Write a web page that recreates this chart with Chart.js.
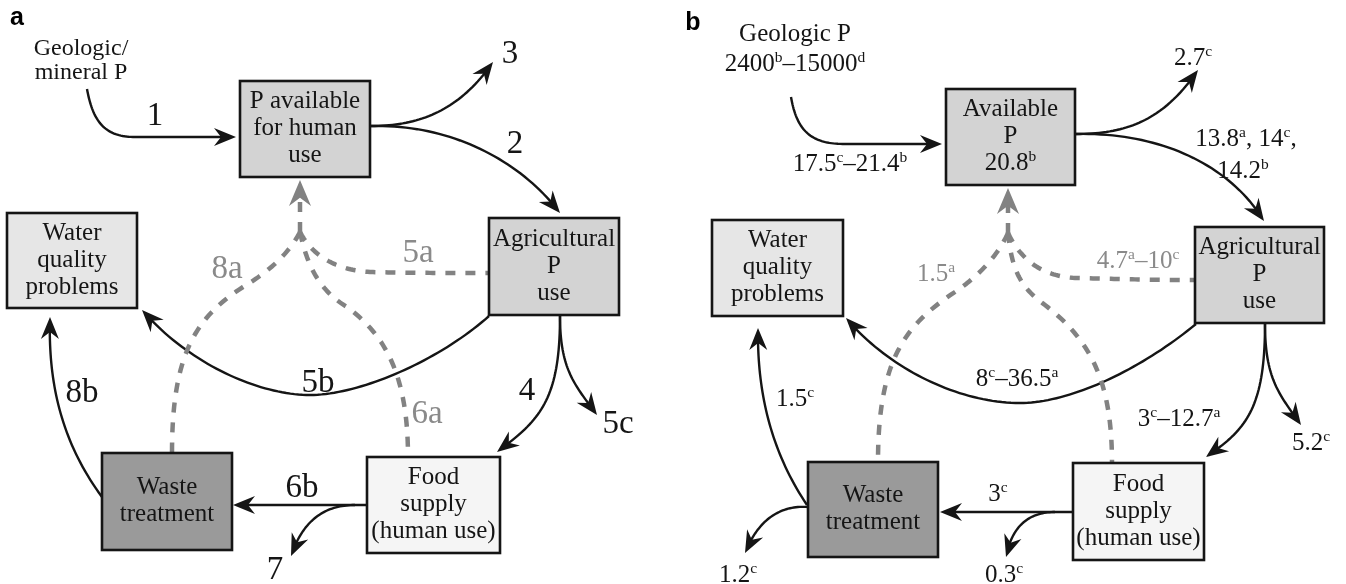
<!DOCTYPE html>
<html>
<head>
<meta charset="utf-8">
<script src="https://cdn.jsdelivr.net/npm/chart.js@4.4.0/dist/chart.umd.min.js"></script>
<style>
  html, body { margin: 0; padding: 0; background: #fff; overflow: hidden; }
  #wrap { width: 1346px; height: 584px; }
</style>
</head>
<body>
<div id="wrap"><canvas id="flow" width="1346" height="584"></canvas></div>
<script>
// --- Data: texts of the two panels ---
const panelNames = ['a', 'b'];
const boxTextA = [['P available', 'for human', 'use'], ['Agricultural', 'P', 'use'], ['Water', 'quality', 'problems'], ['Waste', 'treatment'], ['Food', 'supply', '(human use)']];
const boxTextB = [['Available', 'P', '20.8^b'], ['Agricultural', 'P', 'use'], ['Water', 'quality', 'problems'], ['Waste', 'treatment'], ['Food', 'supply', '(human use)']];
const sourceTextA = ['Geologic/', 'mineral P'];
const sourceTextB = ['Geologic P', '2400^b–15000^d'];
// flows: geologic, loss, to agri, to food, 5c, 5b, 6b, 7, 8b, 5a, 6a, 8a, waste loss
const flowLabelsA = ['1', '3', '2', '4', '5c', '5b', '6b', '7', '8b', '5a', '6a', '8a', null];
const flowLabelsB = ['17.5^c–21.4^b', '2.7^c', ['13.8^a, 14^c,', '14.2^b'], '3^c–12.7^a', '5.2^c', '8^c–36.5^a', '3^c', '0.3^c', '1.5^c', '4.7^a–10^c', null, '1.5^a', '1.2^c'];
const flowDashed = [false, false, false, false, false, false, false, false, false, true, true, true, false];

// --- Layout (diagram units = scale units) ---
const boxFill = ['#d3d3d3', '#d3d3d3', '#e6e6e6', '#9a9a9a', '#f5f5f5'];
const boxPosA = [[240, 81, 370, 177], [489, 218, 619, 315], [7, 213, 137, 308], [102, 453, 232, 550], [367, 457, 500, 553]];
const boxPosB = [[946, 89, 1075, 185], [1195, 227, 1324, 323], [712, 220, 843, 316], [808, 462, 938, 557], [1073, 463, 1204, 560]];
const sourcePosA = [81, 48, 72];
const sourcePosB = [795, 33, 63];
const panelPos = [[17, 18], [693, 23]];

const pathsA = [
  [[87, 89], [93, 122], [105, 137], [135, 137], [170, 137], [200, 137], [236, 137]],
  [[371, 126], [420, 126], [460, 110], [493, 62]],
  [[371, 126], [450, 124], [520, 160], [560, 213]],
  [[560, 316], [560, 400], [540, 420], [497, 452]],
  [[560, 316], [560, 370], [575, 385], [597, 415]],
  [[489, 316], [440, 360], [360, 395], [310, 395], [260, 395], [190, 365], [142, 310]],
  [[367, 505], [320, 505], [280, 505], [233, 505]],
  [[355, 505], [325, 505], [303, 520], [291, 556]],
  [[102, 497], [60, 440], [48, 380], [50, 317]],
  [[300, 232], [312, 255], [335, 270], [370, 272], [410, 273], [450, 273], [489, 273]],
  [[300, 232], [308, 270], [322, 292], [347, 307], [385, 335], [408, 375], [408, 457]],
  [[300, 232], [288, 255], [268, 272], [243, 287], [195, 318], [172, 355], [172, 453]],
  null
];
const pathsB = [
  [[791, 97], [797, 132], [812, 144], [845, 144], [880, 144], [910, 144], [942, 144]],
  [[1076, 134], [1130, 134], [1165, 118], [1198, 70]],
  [[1076, 134], [1160, 132], [1230, 165], [1264, 221]],
  [[1265, 324], [1265, 410], [1245, 430], [1206, 457]],
  [[1265, 324], [1265, 380], [1280, 395], [1301, 425]],
  [[1196, 324], [1140, 370], [1070, 403], [1020, 403], [960, 403], [890, 370], [846, 318]],
  [[1073, 512], [1030, 512], [980, 512], [940, 512]],
  [[1055, 512], [1030, 512], [1012, 525], [1006, 557]],
  [[807, 505], [770, 450], [757, 390], [758, 328]],
  [[1008, 233], [1020, 258], [1040, 276], [1075, 278], [1115, 279], [1155, 280], [1195, 280]],
  [[1008, 233], [1012, 270], [1020, 287], [1045, 305], [1090, 340], [1112, 380], [1112, 463]],
  [[1008, 233], [998, 255], [980, 275], [955, 292], [905, 325], [878, 360], [878, 462]],
  [[808, 507], [780, 505], [758, 520], [745, 553]]
];
const returnArrowA = [[300, 232], [300, 180]];
const returnArrowB = [[1008, 233], [1008, 188]];

const labelPosA = [[155, 115], [510, 53], [515, 143], [527, 390], [618, 423], [318, 382], [302, 487], [275, 569], [82, 392], [418, 252], [427, 413], [227, 268], null];
const labelPosB = [[850, 163], [1193, 57], [[1246, 138], [1243, 170]], [1179, 418], [1311, 442], [1017, 378], [998, 493], [1004, 574], [795, 398], [1138, 260], null, [936, 273], [738, 574]];

const SERIF = '"Liberation Serif", "DejaVu Serif", serif';
const INK = '#151515';
const GRAY_LINE = '#828282';
const GRAY_TEXT = '#8a8a8a';

// --- helpers ---
function flatten(pts, px) {
  const out = [px(pts[0])];
  for (let i = 0; i + 3 < pts.length; i += 3) {
    const p0 = px(pts[i]), c1 = px(pts[i + 1]), c2 = px(pts[i + 2]), p3 = px(pts[i + 3]);
    for (let s = 1; s <= 40; s++) {
      const t = s / 40, u = 1 - t;
      out.push([
        u * u * u * p0[0] + 3 * u * u * t * c1[0] + 3 * u * t * t * c2[0] + t * t * t * p3[0],
        u * u * u * p0[1] + 3 * u * u * t * c1[1] + 3 * u * t * t * c2[1] + t * t * t * p3[1]
      ]);
    }
  }
  return out;
}

// point at distance d back from the end of a polyline, and index where it lies
function backAlong(poly, d) {
  let acc = 0;
  for (let i = poly.length - 1; i > 0; i--) {
    const a = poly[i], b = poly[i - 1];
    const seg = Math.hypot(a[0] - b[0], a[1] - b[1]);
    if (acc + seg >= d) {
      const f = (d - acc) / seg;
      return { pt: [a[0] + (b[0] - a[0]) * f, a[1] + (b[1] - a[1]) * f], idx: i - 1 };
    }
    acc += seg;
  }
  return { pt: poly[0], idx: 0 };
}

function arrowHead(ctx, tip, from, L, W, color) {
  let dx = tip[0] - from[0], dy = tip[1] - from[1];
  const len = Math.hypot(dx, dy) || 1;
  dx /= len; dy /= len;
  const nx = -dy, ny = dx;
  const bx = tip[0] - dx * L, by = tip[1] - dy * L;
  ctx.beginPath();
  ctx.moveTo(tip[0], tip[1]);
  ctx.lineTo(bx + nx * W, by + ny * W);
  ctx.lineTo(tip[0] - dx * L * 0.68, tip[1] - dy * L * 0.68);
  ctx.lineTo(bx - nx * W, by - ny * W);
  ctx.closePath();
  ctx.fillStyle = color;
  ctx.fill();
}

function drawFlow(ctx, poly, dashed, arrow) {
  const L = dashed ? 26 : 22, W = dashed ? 11 : 9;
  let line = poly;
  if (arrow) {
    const cut = backAlong(poly, L * 0.6);
    line = poly.slice(0, cut.idx + 1).concat([cut.pt]);
  }
  ctx.save();
  ctx.strokeStyle = dashed ? GRAY_LINE : INK;
  ctx.lineWidth = dashed ? 4.5 : 2.4;
  ctx.setLineDash(dashed ? [10, 10] : []);
  ctx.beginPath();
  line.forEach((p, i) => i ? ctx.lineTo(p[0], p[1]) : ctx.moveTo(p[0], p[1]));
  ctx.stroke();
  ctx.restore();
  if (arrow) {
    const back = backAlong(poly, L).pt;
    arrowHead(ctx, poly[poly.length - 1], back, L, W, dashed ? GRAY_LINE : INK);
  }
}

// text with ^x superscripts, centred on x, visual middle on y
function richText(ctx, str, x, y, size, color) {
  const runs = [];
  let buf = '';
  for (let i = 0; i < str.length; i++) {
    if (str[i] === '^') {
      if (buf) runs.push({ t: buf, sup: false });
      runs.push({ t: str[i + 1], sup: true });
      buf = ''; i++;
    } else buf += str[i];
  }
  if (buf) runs.push({ t: buf, sup: false });
  const supSize = size * 0.62;
  let total = 0;
  runs.forEach(r => {
    ctx.font = `${r.sup ? supSize : size}px ${SERIF}`;
    r.w = ctx.measureText(r.t).width;
    total += r.w;
  });
  let cx = x - total / 2;
  const base = y + size * 0.3;
  ctx.fillStyle = color;
  ctx.textAlign = 'left';
  ctx.textBaseline = 'alphabetic';
  runs.forEach(r => {
    ctx.font = `${r.sup ? supSize : size}px ${SERIF}`;
    ctx.fillText(r.t, cx, r.sup ? base - size * 0.36 : base);
    cx += r.w;
  });
}

const panels = [
  { boxes: boxPosA, boxText: boxTextA, source: sourceTextA, sourcePos: sourcePosA, paths: pathsA, labels: flowLabelsA, labelPos: labelPosA, ret: returnArrowA, labelSize: 33, sourceSize: 24 },
  { boxes: boxPosB, boxText: boxTextB, source: sourceTextB, sourcePos: sourcePosB, paths: pathsB, labels: flowLabelsB, labelPos: labelPosB, ret: returnArrowB, labelSize: 25, sourceSize: 25 }
];

// --- Diagram plugin: everything goes through the chart's x / y scales ---
const flowDiagram = {
  id: 'flowDiagram',
  afterDatasetsDraw(chart) {
    const ctx = chart.ctx;
    const xs = chart.scales.x, ys = chart.scales.y;
    const px = p => [xs.getPixelForValue(p[0]), ys.getPixelForValue(p[1])];
    ctx.save();

    panels.forEach((pn, k) => {
      // flows
      pn.paths.forEach((path, i) => {
        if (!path) return;
        drawFlow(ctx, flatten(path, px), flowDashed[i], !flowDashed[i]);
      });
      drawFlow(ctx, [px(pn.ret[0]), px(pn.ret[1])], true, true);

      // boxes
      pn.boxes.forEach((b, i) => {
        const p0 = px([b[0], b[1]]), p1 = px([b[2], b[3]]);
        ctx.fillStyle = boxFill[i];
        ctx.fillRect(p0[0], p0[1], p1[0] - p0[0], p1[1] - p0[1]);
        ctx.strokeStyle = INK;
        ctx.lineWidth = 2.6;
        ctx.setLineDash([]);
        ctx.strokeRect(p0[0], p0[1], p1[0] - p0[0], p1[1] - p0[1]);
        const lines = pn.boxText[i];
        const cx = (p0[0] + p1[0]) / 2, cy = (p0[1] + p1[1]) / 2 - 1.5;
        lines.forEach((t, j) => richText(ctx, t, cx, cy + (j - (lines.length - 1) / 2) * 27, 25, INK));
      });

      // source text
      pn.source.forEach((t, j) => {
        const p = px([pn.sourcePos[0], pn.sourcePos[j + 1]]);
        richText(ctx, t, p[0], p[1], pn.sourceSize, INK);
      });

      // flow labels
      pn.labels.forEach((lab, i) => {
        if (!lab) return;
        const color = flowDashed[i] ? GRAY_TEXT : INK;
        if (Array.isArray(lab)) {
          lab.forEach((t, j) => {
            const p = px(pn.labelPos[i][j]);
            richText(ctx, t, p[0], p[1], pn.labelSize, color);
          });
        } else {
          const p = px(pn.labelPos[i]);
          richText(ctx, lab, p[0], p[1], pn.labelSize, color);
        }
      });

      // panel letter
      const pp = px(panelPos[k]);
      ctx.font = 'bold 25px "Liberation Sans", Arial, sans-serif';
      ctx.fillStyle = '#000';
      ctx.textAlign = 'center';
      ctx.textBaseline = 'middle';
      ctx.fillText(panelNames[k], pp[0], pp[1]);
    });
    ctx.restore();
  }
};

new Chart(document.getElementById('flow').getContext('2d'), {
  type: 'scatter',
  data: { datasets: [{ data: [], pointRadius: 0 }] },
  options: {
    responsive: false,
    animation: false,
    devicePixelRatio: 1,
    layout: { padding: 0 },
    plugins: { legend: { display: false }, tooltip: { enabled: false } },
    scales: {
      x: { type: 'linear', min: 0, max: 1346, display: false },
      y: { type: 'linear', min: 0, max: 584, reverse: true, display: false }
    }
  },
  plugins: [flowDiagram]
});
</script>
</body>
</html>
